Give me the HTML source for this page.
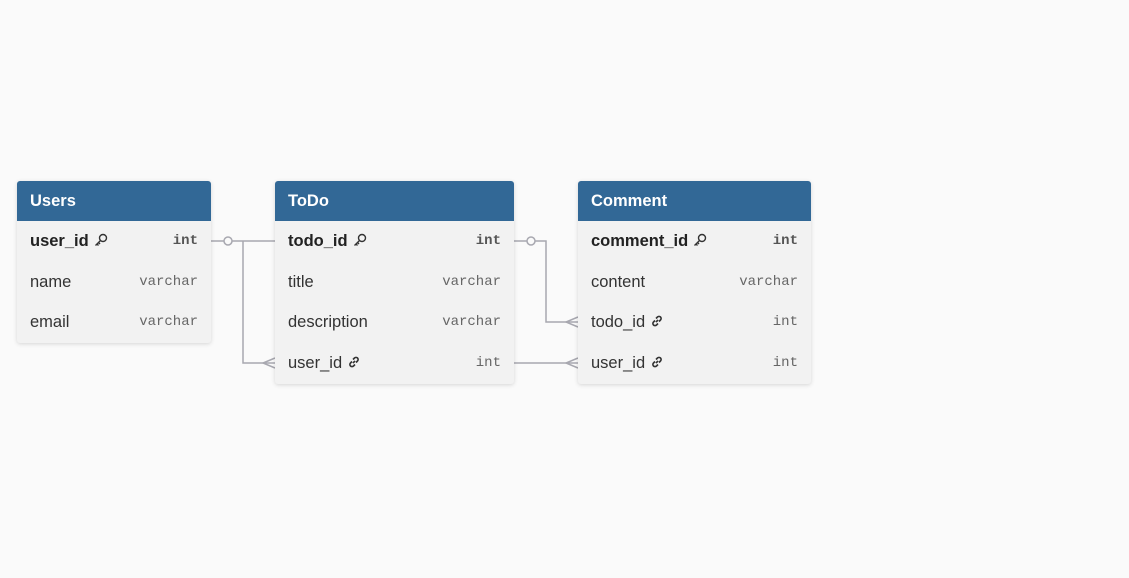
<!DOCTYPE html>
<html><head><meta charset="utf-8"><style>
body{margin:0;background:#fafafa;width:1129px;height:578px;overflow:hidden;font-family:"Liberation Sans",sans-serif}
.t{position:absolute;background:#f2f2f2;border-radius:3px;box-shadow:0 1px 4px rgba(0,0,0,.15);overflow:hidden}
.h{background:#326896;color:#fff;font-weight:bold;font-size:16.5px;height:40px;line-height:40px;padding-left:13px}
.r{height:40.7px;line-height:40px;display:flex;justify-content:space-between;padding:0 13px;font-size:16.5px;color:#333}
.r b{color:#222}
.r span.ty{font-family:"Liberation Mono",monospace;font-size:14px;color:#666}
.r span.ty.k{font-weight:bold;color:#555}
.ic{margin-left:5px;vertical-align:-1px}
</style></head><body>
<svg width="0" height="0" style="position:absolute"><defs>
<g id="key" fill="none" stroke="#333" stroke-width="1.4"><circle cx="9" cy="5" r="3.5"/><path d="M6.5 7.5L1.5 12.5M3 11l1.5 1.5M4.5 9.5L6 11"/></g>
<g id="lnk" fill="none" stroke="#333" stroke-width="1.6"><path d="M6 8l2-2"/><path d="M5 6.5L3.5 8a2.1 2.1 0 0 0 3 3L8 9.5"/><path d="M9 7.5L10.5 6a2.1 2.1 0 0 0-3-3L6 4.5"/></g>
</defs></svg>
<svg width="1129" height="578" style="position:absolute;left:0;top:0">
<g stroke="#a8a8b0" stroke-width="1.5" fill="none">
<path d="M211 241H275M243 241V363H275"/>
<circle cx="228" cy="241" r="4" fill="#fafafa"/>
<path d="M275 358L263 363L275 368"/>
<path d="M514 241H546V322H578M514 363H578"/>
<circle cx="531" cy="241" r="4" fill="#fafafa"/>
<path d="M578 317L566 322L578 327M578 358L566 363L578 368"/>
</g></svg>
<div class="t" style="left:17px;top:181px;width:194px;height:162px">
<div class="h">Users</div>
<div class="r"><b>user_id<svg class="ic" width="14" height="14"><use href="#key"/></svg></b><span class="ty k">int</span></div>
<div class="r"><span>name</span><span class="ty">varchar</span></div>
<div class="r"><span>email</span><span class="ty">varchar</span></div>
</div>
<div class="t" style="left:275px;top:181px;width:239px;height:203px">
<div class="h">ToDo</div>
<div class="r"><b>todo_id<svg class="ic" width="14" height="14"><use href="#key"/></svg></b><span class="ty k">int</span></div>
<div class="r"><span>title</span><span class="ty">varchar</span></div>
<div class="r"><span>description</span><span class="ty">varchar</span></div>
<div class="r"><span>user_id<svg class="ic" width="14" height="14"><use href="#lnk"/></svg></span><span class="ty">int</span></div>
</div>
<div class="t" style="left:578px;top:181px;width:233px;height:203px">
<div class="h">Comment</div>
<div class="r"><b>comment_id<svg class="ic" width="14" height="14"><use href="#key"/></svg></b><span class="ty k">int</span></div>
<div class="r"><span>content</span><span class="ty">varchar</span></div>
<div class="r"><span>todo_id<svg class="ic" width="14" height="14"><use href="#lnk"/></svg></span><span class="ty">int</span></div>
<div class="r"><span>user_id<svg class="ic" width="14" height="14"><use href="#lnk"/></svg></span><span class="ty">int</span></div>
</div>
</body></html>
